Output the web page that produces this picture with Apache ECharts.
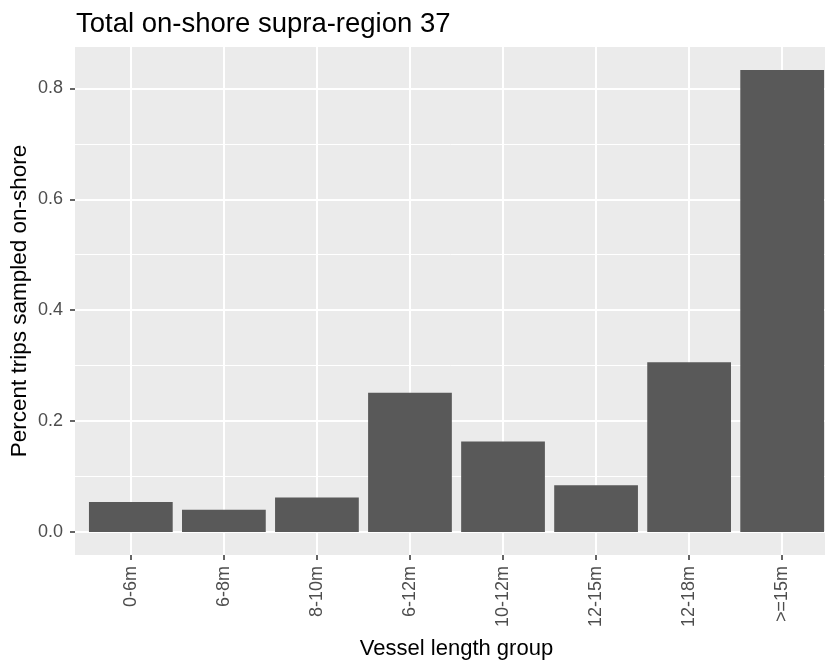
<!DOCTYPE html>
<html>
<head>
<meta charset="utf-8">
<script src="https://cdn.jsdelivr.net/npm/echarts@6/dist/echarts.min.js"></script>
<style>
  html, body { margin: 0; padding: 0; background: #fff; }
  #chart { width: 825px; height: 664px; }
</style>
</head>
<body>
<div id="chart"></div>
<script>
var categories = ['0-6m', '6-8m', '8-10m', '6-12m', '10-12m', '12-15m', '12-18m', '>=15m'];
var values = [0.054, 0.040, 0.062, 0.251, 0.163, 0.084, 0.306, 0.833];
var yTicks = [0, 0.2, 0.4, 0.6, 0.8];
var yMinor = [0.1, 0.3, 0.5, 0.7];

(function () {
    var chart = echarts.init(document.getElementById('chart'));

    var gridLeft = 75, gridRight = -13, gridTop = 47, gridBottom = 109;
    var plotWidth = 825 - gridLeft - gridRight;
    // ggplot style: 0.6 category expansion each side, 5% on y
    var xMin = -0.6, xMax = categories.length - 0.4;
    var barWidth = 0.9 * plotWidth / (xMax - xMin);
    var dataMax = Math.max.apply(null, values);
    var yMin = -dataMax * 0.05, yMax = dataMax * 1.05;

    var catIdx = categories.map(function (c, i) { return i; });
    var font = 'Liberation Sans, Arial, sans-serif';

    var option = {
        animation: false,
        title: {
            text: 'Total on-shore supra-region 37',
            left: gridLeft - 4,
            top: 5,
            textStyle: { color: '#000', fontSize: 27.5, fontWeight: 'normal', fontFamily: font }
        },
        grid: {
            left: gridLeft, right: gridRight, top: gridTop, bottom: gridBottom,
            outerBoundsMode: 'none',
            show: true, backgroundColor: '#EBEBEB', borderWidth: 0
        },
        xAxis: {
            type: 'value',
            min: xMin,
            max: xMax,
            name: 'Vessel length group',
            nameLocation: 'middle',
            nameGap: 83,
            nameMoveOverlap: false,
            nameTextStyle: { color: '#000', fontSize: 22, fontFamily: font },
            axisLine: { show: false, onZero: false },
            axisTick: { show: true, length: 5, customValues: catIdx, lineStyle: { color: '#333', width: 1.5 } },
            axisLabel: {
                customValues: catIdx,
                rotate: 90,
                margin: 11,
                color: '#4D4D4D',
                fontSize: 18,
                fontFamily: font,
                formatter: function (v) { return categories[Math.round(v)]; }
            },
            splitLine: { show: true, customValues: catIdx, lineStyle: { color: '#fff', width: 2 } }
        },
        yAxis: [{
            type: 'value',
            min: yMin,
            max: yMax,
            name: 'Percent trips sampled on-shore',
            nameLocation: 'middle',
            nameGap: 44,
            nameMoveOverlap: false,
            nameTextStyle: { color: '#000', fontSize: 22.5, fontFamily: font },
            axisLine: { show: false, onZero: false },
            axisTick: { show: true, length: 5, customValues: yTicks, lineStyle: { color: '#333', width: 1.5 } },
            axisLabel: {
                customValues: yTicks,
                margin: 12,
                color: '#4D4D4D',
                fontSize: 18,
                fontFamily: font,
                formatter: function (v) { return v.toFixed(1); }
            },
            splitLine: { show: true, customValues: yTicks, lineStyle: { color: '#fff', width: 2 } }
        }, {
            type: 'value',
            position: 'left',
            min: yMin,
            max: yMax,
            axisLine: { show: false, onZero: false },
            axisTick: { show: false, customValues: yMinor },
            axisLabel: { show: false, customValues: yMinor },
            splitLine: { show: true, customValues: yMinor, lineStyle: { color: '#fff', width: 1 } }
        }],
        series: [{
            type: 'bar',
            barWidth: barWidth,
            itemStyle: { color: '#595959' },
            data: values.map(function (v, i) { return [i, v]; })
        }]
    };

    chart.setOption(option);
})();
</script>
</body>
</html>
